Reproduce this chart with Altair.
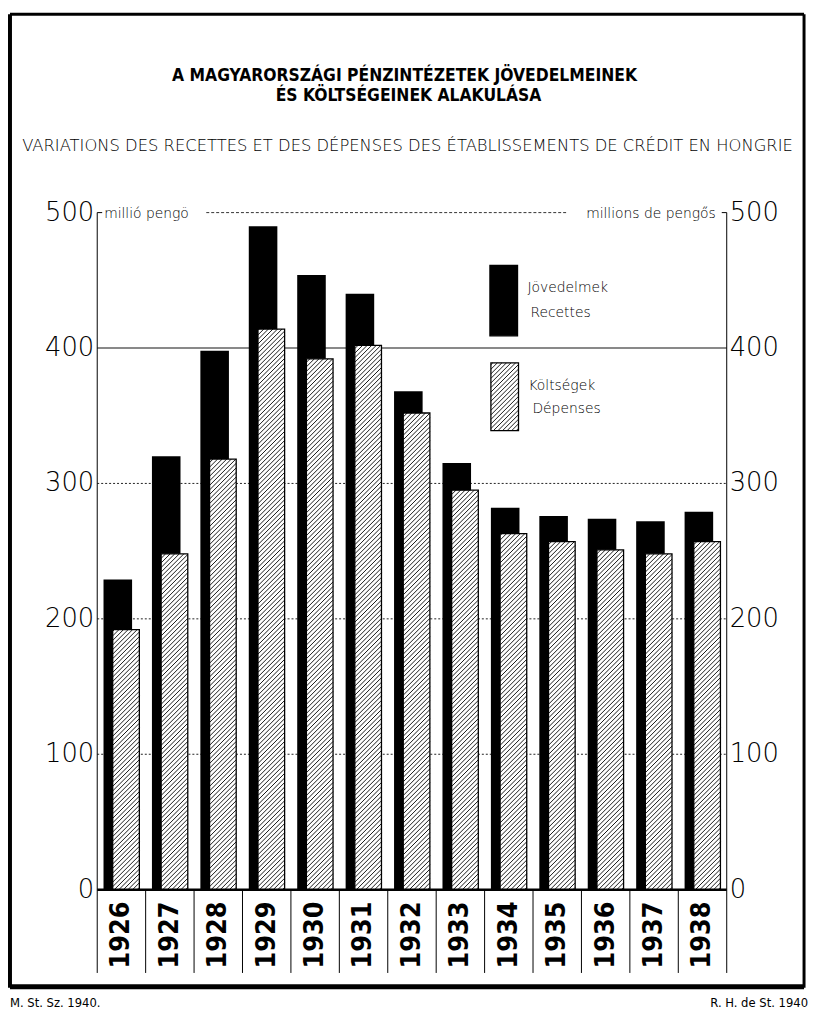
import altair as alt
import pandas as pd

# ---------------- data ----------------
YEARS = ["1926", "1927", "1928", "1929", "1930", "1931", "1932",
         "1933", "1934", "1935", "1936", "1937", "1938"]
RECETTES = [229, 320, 398, 490, 454, 440, 368, 315, 282, 276, 274, 272, 279]   # Jövedelmek
DEPENSES = [192, 248, 318, 414, 392, 402, 352, 295, 263, 257, 251, 248, 257]   # Költségek
Y_TICKS = [0, 100, 200, 300, 400, 500]
GRID_DOTTED = [100, 200, 300]
GRID_SOLID = [400]

TITLE_1 = "A MAGYARORSZÁGI PÉNZINTÉZETEK JÖVEDELMEINEK"
TITLE_2 = "ÉS KÖLTSÉGEINEK ALAKULÁSA"
SUBTITLE = "VARIATIONS DES RECETTES ET DES DÉPENSES DES ÉTABLISSEMENTS DE CRÉDIT EN HONGRIE"
UNIT_L = "millió pengö"
UNIT_R = "millions de pengős"
LEG_1 = ["Jövedelmek", "Recettes"]
LEG_2 = ["Költségek", "Dépenses"]
FOOT_L = "M. St. Sz. 1940."
FOOT_R = "R. H. de St. 1940"

# ---------------- geometry ----------------
W, H = 635, 683
N = len(YEARS)
PX_X = W / N
PX_Y = H / 500.0
BLK = (0.13, 0.72)
HAT = (0.32, 0.87)

XS = alt.Scale(domain=[0, N], nice=False, zero=False)
YS = alt.Scale(domain=[0, 500], nice=False, zero=False)

bars = pd.DataFrame({
    "year": YEARS,
    "i": list(range(N)),
    "rec": RECETTES,
    "dep": DEPENSES,
})
bars["bx0"] = bars["i"] + BLK[0]
bars["bx1"] = bars["i"] + BLK[1]
bars["hx0"] = bars["i"] + HAT[0]
bars["hx1"] = bars["i"] + HAT[1]
bars["xc"] = bars["i"] + 0.5
bars["zero"] = 0

# legend swatches (positions in plot units)
LEG_BLK = dict(x0=8.11, x1=8.68, y0=409, y1=461)
LEG_HAT = dict(x0=8.13, x1=8.70, y0=339, y1=389)


def hatch(x0, x1, y0, y1, sp=4.6):
    w = (x1 - x0) * PX_X
    h = (y1 - y0) * PX_Y
    out = []
    c = -w + sp / 2
    while c < h:
        u0 = max(0.0, -c)
        u1 = min(w, h - c)
        if u1 > u0:
            out.append({"x": x0 + u0 / PX_X, "y": y0 + (u0 + c) / PX_Y,
                        "x2": x0 + u1 / PX_X, "y2": y0 + (u1 + c) / PX_Y})
        c += sp
    return out


segs = []
for _, r in bars.iterrows():
    segs += hatch(r["hx0"], r["hx1"], 0, r["dep"])
segs += hatch(LEG_HAT["x0"], LEG_HAT["x1"], LEG_HAT["y0"], LEG_HAT["y1"])
hatch_df = pd.DataFrame(segs)

legend_df = pd.DataFrame([
    {"kind": "blk", **LEG_BLK},
    {"kind": "hat", **LEG_HAT},
])

LIGHT = "DejaVu Sans"
NARROW = "DejaVu Sans Condensed, Liberation Sans, sans-serif"


def label(text, x, y, **kw):
    return alt.Chart(pd.DataFrame({"t": [text]})).mark_text(**kw).encode(
        x=alt.value(x), y=alt.value(y), text="t:N")


def prule(x, x2, y, y2, **kw):
    return alt.Chart(pd.DataFrame({"a": [0]})).mark_rule(**kw).encode(
        x=alt.value(x), x2=alt.value(x2), y=alt.value(y), y2=alt.value(y2))


base = alt.Chart(bars)

# grid lines
grid_dot = alt.Chart(pd.DataFrame({"v": GRID_DOTTED, "x0": 0, "x1": N})).mark_rule(
    color="#222", strokeWidth=1, strokeDash=[2, 2]).encode(
    x=alt.X("x0:Q", scale=XS, axis=None), x2="x1:Q",
    y=alt.Y("v:Q", scale=YS, axis=None))
grid_solid = alt.Chart(pd.DataFrame({"v": GRID_SOLID, "x0": 0, "x1": N})).mark_rule(
    color="#111", strokeWidth=1).encode(
    x=alt.X("x0:Q", scale=XS, axis=None), x2="x1:Q",
    y=alt.Y("v:Q", scale=YS, axis=None))
top_line = prule(110, 474, 0, 0, color="#333", strokeWidth=1, strokeDash=[3, 2])
tick_l = prule(0, 5, 0, 0, color="black", strokeWidth=1)
tick_r = prule(630, 635, 0, 0, color="black", strokeWidth=1)

# bars
blk = base.mark_bar(color="black").encode(
    x=alt.X("bx0:Q", scale=XS, axis=None), x2="bx1:Q",
    y=alt.Y("rec:Q", scale=YS, axis=None), y2="zero:Q")
hat = base.mark_bar(fill="white", stroke="black", strokeWidth=1.3).encode(
    x=alt.X("hx0:Q", scale=XS, axis=None), x2="hx1:Q",
    y=alt.Y("dep:Q", scale=YS, axis=None), y2="zero:Q")

leg_rects = alt.Chart(legend_df).mark_rect(stroke="black", strokeWidth=1.3).encode(
    x=alt.X("x0:Q", scale=XS, axis=None), x2="x1:Q",
    y=alt.Y("y0:Q", scale=YS, axis=None), y2="y1:Q",
    fill=alt.Fill("kind:N", scale=alt.Scale(domain=["blk", "hat"], range=["black", "white"]), legend=None))

hatch_lines = alt.Chart(hatch_df).mark_rule(color="black", strokeWidth=0.9).encode(
    x=alt.X("x:Q", scale=XS, axis=None), x2="x2:Q",
    y=alt.Y("y:Q", scale=YS, axis=None), y2="y2:Q")

# baseline & axes lines
baseline = prule(0, W, H, H, color="black", strokeWidth=2.5)
axis_l = prule(0, 0, 0, 767, color="black", strokeWidth=1)
axis_r = prule(W, W, 0, 767, color="black", strokeWidth=1)
seps = alt.Chart(pd.DataFrame({"s": list(range(1, N))})).mark_rule(
    color="black", strokeWidth=1).encode(
    x=alt.X("s:Q", scale=XS, axis=None), y=alt.value(H), y2=alt.value(767))

# year labels
year_txt = base.mark_text(angle=270, align="right", baseline="middle",
                          font=NARROW, fontWeight="bold", fontSize=27).encode(
    x=alt.X("xc:Q", scale=XS, axis=None), y=alt.value(H + 12), text="year:N")

# y tick labels
ticks_df = pd.DataFrame({"v": Y_TICKS, "t": [str(v) for v in Y_TICKS]})
ylab_l = alt.Chart(ticks_df).mark_text(align="right", baseline="middle", font=LIGHT,
                                       fontWeight=200, fontSize=26, color="black").encode(
    x=alt.value(-3), y=alt.Y("v:Q", scale=YS, axis=None), text="t:N")
ylab_r = alt.Chart(ticks_df).mark_text(align="left", baseline="middle", font=LIGHT,
                                       fontWeight=200, fontSize=26, color="black").encode(
    x=alt.value(W + 3), y=alt.Y("v:Q", scale=YS, axis=None), text="t:N")

# texts
t1 = label(TITLE_1, 310, -138, font=NARROW, fontWeight="bold", fontSize=17.5, align="center", baseline="middle")
t2 = label(TITLE_2, 314, -118, font=NARROW, fontWeight="bold", fontSize=17.5, align="center", baseline="middle")
st = label(SUBTITLE, 313, -67, font=LIGHT, fontWeight=200, fontSize=16.5, align="center", baseline="middle", color="black")
ul = label(UNIT_L, 7, 1, font=LIGHT, fontWeight=300, fontSize=14, align="left", baseline="middle")
ur = label(UNIT_R, 624, 1, font=LIGHT, fontWeight=300, fontSize=14, align="right", baseline="middle")
lg = [
    label(LEG_1[0], 434, 76, font=LIGHT, fontWeight=300, fontSize=14, align="left", baseline="middle"),
    label(LEG_1[1], 437, 101, font=LIGHT, fontWeight=300, fontSize=14, align="left", baseline="middle"),
    label(LEG_2[0], 435, 175, font=LIGHT, fontWeight=300, fontSize=14, align="left", baseline="middle"),
    label(LEG_2[1], 439, 198, font=LIGHT, fontWeight=300, fontSize=14, align="left", baseline="middle"),
]
fl = label(FOOT_L, -88, 797, font=NARROW, fontSize=13, align="left", baseline="middle")
fr = label(FOOT_R, 717, 797, font=NARROW, fontSize=13, align="right", baseline="middle")

# frame
fr_l = prule(-88, -88, -200, 782, color="black", strokeWidth=4)
fr_r = prule(713, 713, -200, 782, color="black", strokeWidth=3)
fr_t = prule(-88, 713, -200, -200, color="black", strokeWidth=3)
fr_b = prule(-88, 713, 781, 781, color="black", strokeWidth=5)

chart = alt.layer(
    grid_dot, grid_solid, top_line, tick_l, tick_r,
    blk, hat, leg_rects, hatch_lines,
    baseline, axis_l, axis_r, seps, year_txt,
    ylab_l, ylab_r, t1, t2, st, ul, ur, *lg, fl, fr,
    fr_l, fr_r, fr_t, fr_b,
).properties(
    width=W, height=H,
    autosize=alt.AutoSizeParams(type="none"),
    padding={"left": 90, "top": 202, "right": 83, "bottom": 118},
    background="white",
).configure_view(stroke=None)

chart.save("out.html", embed_options={"renderer": "svg", "actions": False})
